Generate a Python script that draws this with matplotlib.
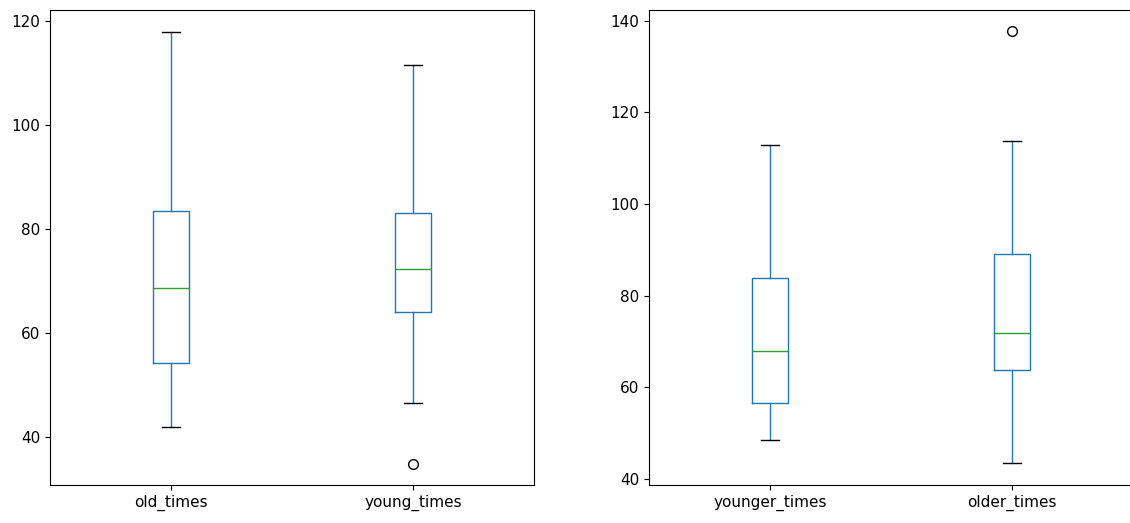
import matplotlib
matplotlib.use("Agg")
import matplotlib.pyplot as plt

# box statistics (whislo, q1, median, q3, whishi)
left_labels = ["old_times", "young_times"]
left_whislo = [41.9, 46.5]
left_q1 = [54.2, 64.0]
left_med = [68.6, 72.4]
left_q3 = [83.5, 83.1]
left_whishi = [117.9, 111.5]
left_fliers = [[], [34.9]]

right_labels = ["younger_times", "older_times"]
right_whislo = [48.5, 43.4]
right_q1 = [56.5, 63.7]
right_med = [67.8, 71.8]
right_q3 = [83.9, 89.0]
right_whishi = [112.8, 113.7]
right_fliers = [[], [137.7]]


def make_stats(labels, lo, q1, med, q3, hi, fl):
    return [dict(label=l, whislo=a, q1=b, med=c, q3=d, whishi=e, fliers=f)
            for l, a, b, c, d, e, f in zip(labels, lo, q1, med, q3, hi, fl)]


plt.rcParams['font.size'] = 11
fig = plt.figure(figsize=(11.3, 5.23), dpi=100)
ax1 = fig.add_axes([0.0442, 0.0727, 0.4283, 0.9082])
ax2 = fig.add_axes([0.5743, 0.0727, 0.4283, 0.9082])

style = dict(
    widths=0.15,
    boxprops=dict(color="#1f77b4"),
    whiskerprops=dict(color="#1f77b4"),
    medianprops=dict(color="#2ca02c"),
    capprops=dict(color="k"),
    flierprops=dict(marker="o", markerfacecolor="none", markeredgecolor="k", markersize=7),
)

ax1.bxp(make_stats(left_labels, left_whislo, left_q1, left_med, left_q3, left_whishi, left_fliers), **style)
ax2.bxp(make_stats(right_labels, right_whislo, right_q1, right_med, right_q3, right_whishi, right_fliers), **style)

ax1.set_xlim(0.5, 2.5)
ax1.set_ylim(30.8, 122.1)
ax1.set_yticks([40, 60, 80, 100, 120])
ax2.set_xlim(0.5, 2.5)
ax2.set_ylim(38.6, 142.4)
ax2.set_yticks([40, 60, 80, 100, 120, 140])

fig.savefig("out.png", dpi=100)
